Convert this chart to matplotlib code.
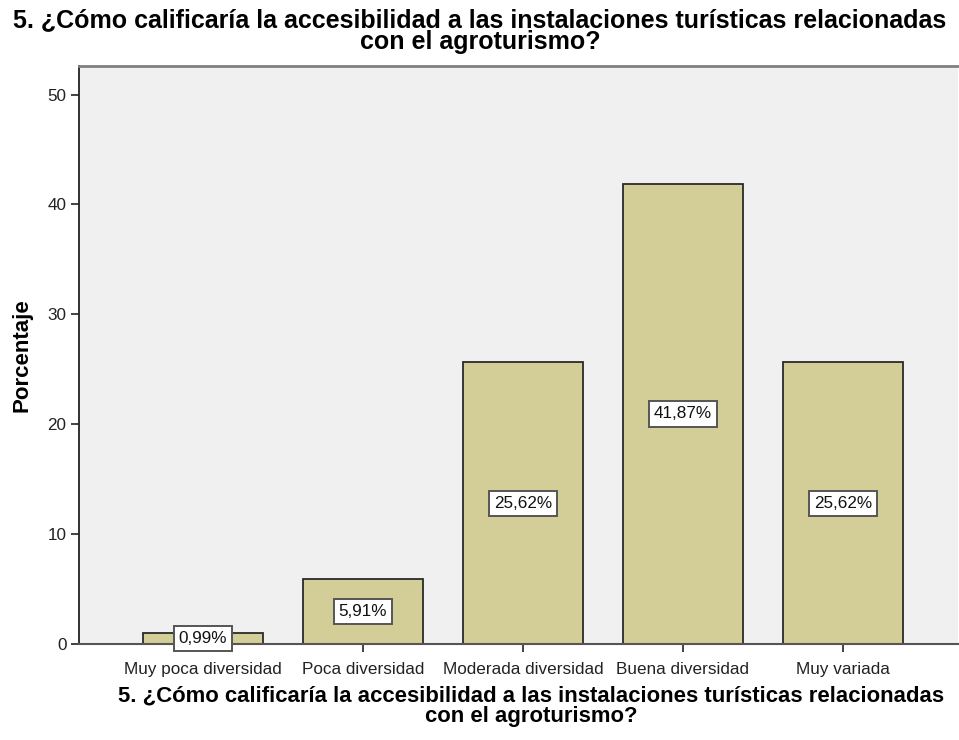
import matplotlib
matplotlib.use("Agg")
import matplotlib.pyplot as plt

categories = ["Muy poca diversidad", "Poca diversidad", "Moderada diversidad",
              "Buena diversidad", "Muy variada"]
values = [0.99, 5.91, 25.62, 41.87, 25.62]
labels = ["0,99%", "5,91%", "25,62%", "41,87%", "25,62%"]
yticks = [0, 10, 20, 30, 40, 50]
title = "5. ¿Cómo calificaría la accesibilidad a las instalaciones turísticas relacionadas\ncon el agroturismo?"

plt.rcParams['font.family'] = ['Liberation Sans', 'DejaVu Sans']

fig = plt.figure(figsize=(9.59, 7.40), dpi=100)
ax = fig.add_axes([79/959, 96/740, (958-79)/959, (644-66)/740])
ax.set_facecolor('#f0f0f0')

x = list(range(len(categories)))
ax.bar(x, values, width=0.75, color='#d3ce98', edgecolor='#2a2a2a', linewidth=1.3, zorder=2)
for xi, v, lab in zip(x, values, labels):
    ax.text(xi, v / 2, lab, ha='center', va='center', fontsize=12.3, color='#111111', zorder=3,
            bbox=dict(boxstyle='square,pad=0.3', fc='white', ec='#555555', lw=1.4))

ax.set_xlim(-0.775, 4.72)
ax.set_ylim(0, 52.6)
ax.set_xticks(x)
ax.set_xticklabels(categories, fontsize=12.3, color='#222222', va='baseline')
ax.set_yticks(yticks)
ax.set_yticklabels([str(t) for t in yticks], fontsize=12.3, color='#222222')
ax.tick_params(axis='both', direction='out', length=6, width=1.2, color='#222222', pad=3)
ax.tick_params(axis='x', pad=15.8)

ax.spines['right'].set_visible(False)
ax.spines['top'].set_color('#808080')
ax.spines['top'].set_linewidth(2)
ax.spines['left'].set_color('#222222')
ax.spines['left'].set_linewidth(1.3)
ax.spines['bottom'].set_color('#555555')
ax.spines['bottom'].set_linewidth(1.5)

ax.set_ylabel("Porcentaje", fontsize=16, fontweight='bold')
ax.yaxis.set_label_coords((33-79)/(958-79), 0.5)

ax.set_xlabel(title, fontsize=15.9, fontweight='bold', linespacing=0.95)
ax.xaxis.set_label_coords((531-79)/(958-79), -(686-644)/(644-66))
ax.xaxis.label.set_va('top')

fig.text(480/959, 1 - 8/740, title, ha='center', va='top', fontsize=18, fontweight='bold',
         linespacing=0.92)

fig.savefig("out.png", dpi=100)
